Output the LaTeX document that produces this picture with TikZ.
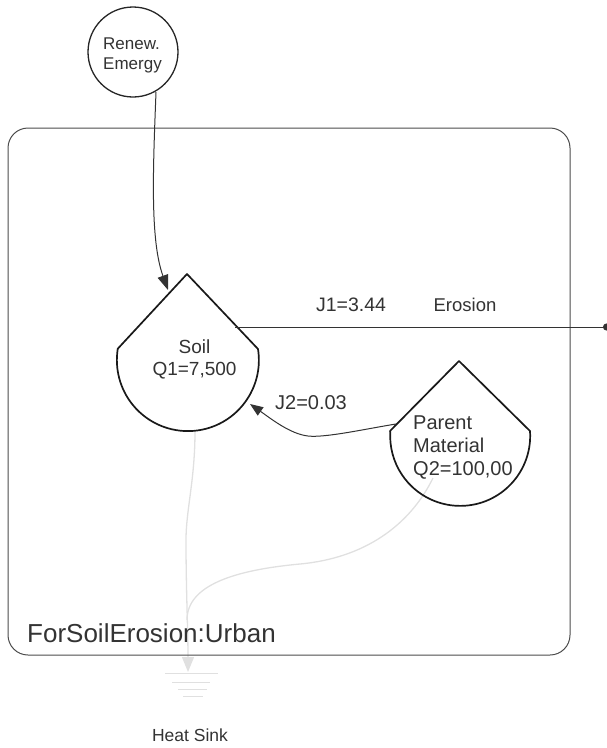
\documentclass[tikz,border=0pt]{standalone}
\usepackage{fontspec}
\setmainfont{Liberation Sans}
\usetikzlibrary{arrows.meta}

\begin{document}
\begin{tikzpicture}[x=1pt, y=-1pt,
    tank/.style={draw=black!90, line width=1.7pt, line join=round},
    flow/.style={draw=black!80, line width=1pt, -{Triangle[length=15pt, width=11pt]}},
    heat/.style={draw=black!12, line width=1.3pt},
    sinkline/.style={draw=black!12, line width=1pt},
    lbl/.style={text=black!80, inner sep=0pt, font=\fontsize{#1}{#1}\selectfont},
    lbl/.default=18]
    \useasboundingbox (0,0) rectangle (607,748);

    \coordinate (soilout) at (195,431);
    \coordinate (soilheat) at (188,672);
    \coordinate (parentout) at (433,478);
    \coordinate (heatjoin) at (187,620);
    \coordinate (s1) at (165,673);
    \coordinate (s2) at (218,673);
    \coordinate (s3) at (172,682);
    \coordinate (s4) at (210,682);
    \coordinate (s5) at (178,689);
    \coordinate (s6) at (207,689);
    \coordinate (s7) at (183,696);
    \coordinate (s8) at (203,696);

    \draw[heat] (parentout) .. controls (410,525) and (365,558) .. (300,564) .. controls (235,570) and (187,585) .. (heatjoin);
    \draw[heat, -{Triangle[length=15pt, width=12pt]}] (soilout) .. controls (195,480) and (186,510) .. (186,540) .. controls (186,590) and (188,630) .. (soilheat);
    \draw[sinkline] (s1) -- (s2);
    \draw[sinkline] (s3) -- (s4);
    \draw[sinkline] (s5) -- (s6);
    \draw[sinkline] (s7) -- (s8);

    \node[draw=black!70, line width=1pt, rounded corners=20pt, minimum width=562pt, minimum height=527pt, inner sep=0pt, outer sep=0pt] (urban) at (289,391.5) {};

    \draw[tank] (117.5,349) -- (187,274) -- (258,349) arc[start angle=-9, end angle=189, x radius=71pt, y radius=-71pt] -- cycle;
    \draw[tank] (390,431) -- (459,361) -- (530,431) arc[start angle=-4, end angle=184, x radius=70pt, y radius=-70pt] -- cycle;

    \node[draw=black!85, line width=1.3pt, circle, minimum size=90pt, inner sep=0pt, outer sep=0pt, fill=white] (renew) at (133,52) {};
    \node[lbl=17, align=left] (renewlbl) at (132.5,55.5) {Renew.\\[3.5pt]Emergy};
    \node[lbl=19, align=center] (soil) at (194.5,359) {Soil\\[3pt]Q1=7,500};
    \node[lbl=20, align=left, anchor=west] (parent) at (413,447.5) {Parent\\[3pt]Material\\[3pt]Q2=100,00};
    \node[lbl=19.5] (j1) at (351,305) {J1=3.44};
    \node[lbl=18.5] (erosion) at (465,305) {Erosion};
    \node[lbl=20] (j2) at (311,403) {J2=0.03};
    \node[lbl=26, anchor=west] (title) at (27,633) {ForSoilErosion:Urban};
    \node[lbl=17.5] (sink) at (190,735) {Heat Sink};

    \coordinate (renewout) at (156,92);
    \coordinate (soiltop) at (168,290);
    \coordinate (soilright) at (235,327);
    \coordinate (soilside) at (250,404);
    \coordinate (parentleft) at (396,424);
    \coordinate (edge) at (610,327);

    \draw[flow] (renewout) .. controls (153,170) and (150,240) .. (soiltop);
    \draw[draw=black!80, line width=1pt, -{Circle[length=7pt]}] (soilright) -- (edge);
    \draw[flow, -{Triangle[length=13pt, width=10pt]}] (parentleft) .. controls (365,429) and (325,438) .. (308,436) .. controls (290,434) and (270,418) .. (soilside);
\end{tikzpicture}
\end{document}
